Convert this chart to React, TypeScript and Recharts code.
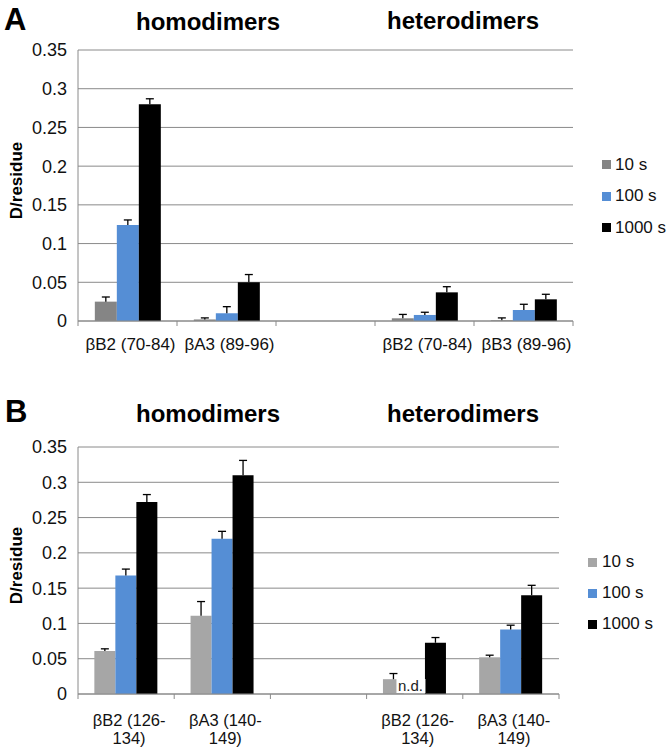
import React from 'react';
import { BarChart, Bar, XAxis, YAxis, CartesianGrid, ErrorBar, Legend, Label, LabelList } from 'recharts';

// shared
const timeLabels = ['10 s', '100 s', '1000 s'];
const yTicks = [0, 0.05, 0.1, 0.15, 0.2, 0.25, 0.3, 0.35];

// panel A – peptides 70-84 / 89-96
const catsA = ['βB2 (70-84)', 'βA3 (89-96)', '', 'βB2 (70-84)', 'βB3 (89-96)'];
const a10 = [0.025, 0.002, null, 0.0035, 0.001];
const a10Err = [0.006, 0.002, null, 0.005, 0.003];
const a100 = [0.124, 0.01, null, 0.0078, 0.0142];
const a100Err = [0.0065, 0.0085, null, 0.0035, 0.0074];
const a1000 = [0.28, 0.05, null, 0.037, 0.028];
const a1000Err = [0.007, 0.01, null, 0.0073, 0.0065];

// panel B – peptides 126-134 / 140-149
const catsB = ['βB2 (126-134)', 'βA3 (140-149)', '', 'βB2 (126-134)', 'βA3 (140-149)'];
const b10 = [0.061, 0.111, null, 0.021, 0.052];
const b10Err = [0.003, 0.02, null, 0.008, 0.003];
const b100 = [0.168, 0.22, null, null, 0.0915];
const b100Err = [0.009, 0.0105, null, null, 0.006];
const b1000 = [0.272, 0.31, null, 0.0726, 0.14];
const b1000Err = [0.0106, 0.021, null, 0.0074, 0.014];
const bNotes = ['', '', '', 'n.d.', ''];

const FONT = '"Liberation Sans", Arial, Helvetica, sans-serif';
const AXIS = '#8a8a8a';
const BLUE = '#558ed5';

function buildRows(cats: string[], v10: any[], e10: any[], v100: any[], e100: any[], v1000: any[], e1000: any[], notes?: string[]) {
  return cats.map((cat, i) => ({
    cat,
    t10: v10[i], e10: e10[i],
    t100: v100[i], e100: e100[i],
    t1000: v1000[i], e1000: e1000[i],
    note: notes ? notes[i] : ''
  }));
}

const rowsA = buildRows(catsA, a10, a10Err, a100, a100Err, a1000, a1000Err);
const rowsB = buildRows(catsB, b10, b10Err, b100, b100Err, b1000, b1000Err, bNotes);

// only the upper whisker, like the original figure
const upper = (key: string) => (d: any) => (d[key] == null ? null : [0, d[key]]);

function CatTick(props: any) {
  const { x, y, payload, width, visibleTicksCount, index, wrap } = props;
  const half = payload.offset ?? width / (2 * visibleTicksCount);
  const label = String(payload.value ?? '');
  const lines = wrap && label ? label.replace('-', '-\n').split('\n') : [label];
  const first = wrap ? 32 : 29;
  return (
    <g>
      <line x1={x - half} x2={x - half} y1={y} y2={y + 5} stroke={AXIS} />
      {index === visibleTicksCount - 1 && <line x1={x + half} x2={x + half} y1={y} y2={y + 5} stroke={AXIS} />}
      <text textAnchor="middle" fontFamily={FONT} fontSize={wrap ? 16.5 : 17} fill="#111">
        {lines.map((l, i) => (
          <tspan key={i} x={x + 3} y={y + first + i * 18}>{l}</tspan>
        ))}
      </text>
    </g>
  );
}

function TimeLegend({ payload, rowH, gap }: any) {
  return (
    <div style={{ fontFamily: FONT, fontSize: 17, color: '#111' }}>
      {(payload || []).map((e: any) => (
        <div key={e.value} style={{ height: rowH, display: 'flex', alignItems: 'center' }}>
          <span style={{ width: 9, height: 9, background: e.color, marginRight: gap, display: 'inline-block' }} />
          {e.value}
        </div>
      ))}
    </div>
  );
}

function YTitle({ viewBox }: any) {
  const cx = viewBox.x + 16;
  const cy = viewBox.y + viewBox.height / 2 - 5;
  return (
    <text
      x={cx}
      y={cy}
      transform={`rotate(-90, ${cx}, ${cy})`}
      textAnchor="middle"
      dominantBaseline="central"
      fontFamily={FONT}
      fontSize={17}
      fontWeight="bold"
      fill="#000"
    >
      D/residue
    </text>
  );
}

function NdLabel(props: any) {
  const { x, y, width, height, value } = props;
  if (!value) return null;
  const cx = x + width * 1.5 - 4;
  const base = y + height - 3;
  return (
    <g>
      <rect x={cx - 14} y={base - 12} width={29} height={14} fill="#fff" />
      <text x={cx} y={base} textAnchor="middle" fontFamily={FONT} fontSize={15} fill="#222">{value}</text>
    </g>
  );
}

function Panel({ rows, gray, marginTop, marginRight, xHeight, wrap, legendTop, legendLeft, rowH, gap, notes }: any) {
  return (
    <BarChart
      width={671}
      height={370}
      data={rows}
      margin={{ top: marginTop, right: marginRight, left: 0, bottom: 0 }}
      barCategoryGap="17%"
      barGap={0}
    >
      <CartesianGrid vertical={false} stroke={AXIS} />
      <XAxis
        dataKey="cat"
        interval={0}
        height={xHeight}
        axisLine={{ stroke: AXIS }}
        tickLine={false}
        tickSize={0}
        tickMargin={0}
        tick={(p: any) => <CatTick {...p} wrap={wrap} />}
      />
      <YAxis
        width={78}
        domain={[0, 0.35]}
        ticks={yTicks}
        axisLine={{ stroke: AXIS }}
        tickLine={false}
        tickMargin={5}
        tick={{ fontFamily: FONT, fontSize: 18, fill: '#111' }}
      >
        <Label content={<YTitle />} />
      </YAxis>
      <Legend
        layout="vertical"
        align="center"
        verticalAlign="middle"
        wrapperStyle={{ top: legendTop, left: legendLeft, width: 'auto' }}
        content={<TimeLegend rowH={rowH} gap={gap} />}
      />
      <Bar dataKey="t10" name={timeLabels[0]} fill={gray} isAnimationActive={false}>
        <ErrorBar dataKey={upper('e10')} width={4} stroke="#000" strokeWidth={1.3} isAnimationActive={false} />
        {notes && <LabelList dataKey="note" content={<NdLabel />} />}
      </Bar>
      <Bar dataKey="t100" name={timeLabels[1]} fill={BLUE} isAnimationActive={false}>
        <ErrorBar dataKey={upper('e100')} width={4} stroke="#000" strokeWidth={1.3} isAnimationActive={false} />
      </Bar>
      <Bar dataKey="t1000" name={timeLabels[2]} fill="#000" isAnimationActive={false}>
        <ErrorBar dataKey={upper('e1000')} width={4} stroke="#000" strokeWidth={1.3} isAnimationActive={false} />
      </Bar>
    </BarChart>
  );
}

export default function App() {
  const titleStyle = { fontFamily: FONT, fontWeight: 'bold' as const, fill: '#000' };
  return (
    <div style={{ position: 'absolute', left: 0, top: 0, width: 671, height: 750, background: '#fff' }}>
      <style>{`.recharts-errorBar line:nth-of-type(3){display:none}`}</style>
      <div style={{ position: 'absolute', left: 0, top: 0 }}>
        <Panel rows={rowsA} gray="#858585" marginTop={50} marginRight={98} xHeight={49}
          legendTop={149} legendLeft={602} rowH={31.5} gap={4} />
      </div>
      <div style={{ position: 'absolute', left: 0, top: 380 }}>
        <Panel rows={rowsB} gray="#a6a6a6" marginTop={67} marginRight={112} xHeight={56} wrap notes
          legendTop={166.5} legendLeft={588} rowH={31} gap={5} />
      </div>
      <svg width={671} height={750} style={{ position: 'absolute', left: 0, top: 0, pointerEvents: 'none' }}>
        <text x={4} y={30} fontSize={31} {...titleStyle}>A</text>
        <text x={208} y={30} fontSize={24} textAnchor="middle" {...titleStyle}>homodimers</text>
        <text x={463} y={29} fontSize={24} textAnchor="middle" {...titleStyle}>heterodimers</text>
        <text x={5} y={421.5} fontSize={31} {...titleStyle}>B</text>
        <text x={208} y={421.5} fontSize={24} textAnchor="middle" {...titleStyle}>homodimers</text>
        <text x={463} y={421.5} fontSize={24} textAnchor="middle" {...titleStyle}>heterodimers</text>
      </svg>
    </div>
  );
}
